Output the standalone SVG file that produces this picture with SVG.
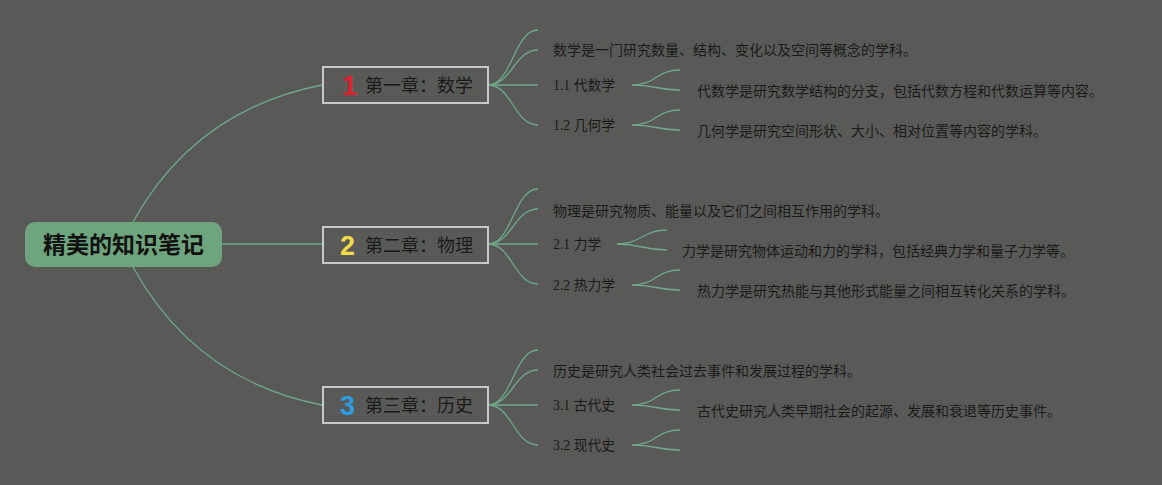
<svg xmlns="http://www.w3.org/2000/svg" width="1162" height="485" viewBox="0 0 1162 485">
<style>
.bg{fill:#595a57}
.ln{fill:none;stroke:#6fa88a;stroke-width:1.3}
.chap{fill:#595a57;stroke:#c9c9c9;stroke-width:2}
.ct{font-family:"Noto Sans CJK SC","Noto Sans",sans-serif;font-size:18px;fill:#1a1a1a}
.num{font-family:"Liberation Sans","Noto Sans",sans-serif;font-size:27px;font-weight:bold}
.lab{font-family:"Liberation Serif","Noto Sans CJK SC",serif;font-size:13.8px;fill:#1a1a1a}
.desc{font-family:"Noto Sans CJK SC","Noto Sans",sans-serif;font-size:14px;fill:#1a1a1a}
.root{fill:#6ea57e}
.rt{font-family:"Noto Sans CJK SC","Noto Sans",sans-serif;font-size:23px;font-weight:bold;fill:#111}
</style>
<rect class="bg" x="0" y="0" width="1162" height="485"/>
<g id="connectors">
<path class="ln" d="M133,222 Q195,110 322,85"/>
<path class="ln" d="M222,244 L322,244"/>
<path class="ln" d="M133,267 Q195,380 322,405"/>
<path class="ln" d="M488,85 C512,85 514,30 538,30"/>
<path class="ln" d="M488,85 C512,85 514,50 538,50"/>
<path class="ln" d="M488,85 L538,85"/>
<path class="ln" d="M488,85 C512,85 514,125 538,125"/>
<path class="ln" d="M632,85 C656,85 656,70 680,70"/>
<path class="ln" d="M632,85 C656,85 656,90 680,90"/>
<path class="ln" d="M632,125 C656,125 656,110 680,110"/>
<path class="ln" d="M632,125 C656,125 656,130 680,130"/>
<path class="ln" d="M488,244 C512,244 514,189 538,189"/>
<path class="ln" d="M488,244 C512,244 514,209 538,209"/>
<path class="ln" d="M488,244 L538,244"/>
<path class="ln" d="M488,244 C512,244 514,284 538,284"/>
<path class="ln" d="M617,244 C641,244 643,230 667,230"/>
<path class="ln" d="M617,244 C641,244 643,250 667,250"/>
<path class="ln" d="M632,285 C656,285 656,270 680,270"/>
<path class="ln" d="M632,285 C656,285 656,290 680,290"/>
<path class="ln" d="M488,405 C512,405 514,350 538,350"/>
<path class="ln" d="M488,405 C512,405 514,370 538,370"/>
<path class="ln" d="M488,405 L538,405"/>
<path class="ln" d="M488,405 C512,405 514,445 538,445"/>
<path class="ln" d="M632,405 C656,405 656,390 680,390"/>
<path class="ln" d="M632,405 C656,405 656,410 680,410"/>
<path class="ln" d="M632,445 C656,445 656,430 680,430"/>
<path class="ln" d="M632,445 C656,445 656,450 680,450"/>
</g>
<g id="root">
<rect class="root" x="25" y="222" width="197" height="45" rx="10"/>
<text class="rt" x="123.5" y="253" text-anchor="middle">精美的知识笔记</text>
</g>
<g id="ch1">
<rect class="chap" x="323" y="67" width="165" height="36"/>
<text class="num" x="342" y="95" fill="#e0202e">1</text>
<text class="ct" x="365" y="92">第一章：数学</text>
</g>
<g id="ch1-desc"><text class="desc" x="553" y="55">数学是一门研究数量、结构、变化以及空间等概念的学科。</text></g>
<g id="s11"><text class="lab" x="553" y="90">1.1 代数学</text></g>
<g id="s11-desc"><text class="desc" x="697" y="96">代数学是研究数学结构的分支，包括代数方程和代数运算等内容。</text></g>
<g id="s12"><text class="lab" x="553" y="130">1.2 几何学</text></g>
<g id="s12-desc"><text class="desc" x="697" y="136">几何学是研究空间形状、大小、相对位置等内容的学科。</text></g>
<g id="ch2">
<rect class="chap" x="323" y="227" width="165" height="36"/>
<text class="num" x="340" y="255" fill="#f2d84a">2</text>
<text class="ct" x="365" y="252">第二章：物理</text>
</g>
<g id="ch2-desc"><text class="desc" x="553" y="216">物理是研究物质、能量以及它们之间相互作用的学科。</text></g>
<g id="s21"><text class="lab" x="553" y="249">2.1 力学</text></g>
<g id="s21-desc"><text class="desc" x="682" y="256">力学是研究物体运动和力的学科，包括经典力学和量子力学等。</text></g>
<g id="s22"><text class="lab" x="553" y="290">2.2 热力学</text></g>
<g id="s22-desc"><text class="desc" x="697" y="296">热力学是研究热能与其他形式能量之间相互转化关系的学科。</text></g>
<g id="ch3">
<rect class="chap" x="323" y="387" width="165" height="36"/>
<text class="num" x="340" y="415" fill="#2b9fe0">3</text>
<text class="ct" x="365" y="412">第三章：历史</text>
</g>
<g id="ch3-desc"><text class="desc" x="553" y="376">历史是研究人类社会过去事件和发展过程的学科。</text></g>
<g id="s31"><text class="lab" x="553" y="410">3.1 古代史</text></g>
<g id="s31-desc"><text class="desc" x="697" y="416">古代史研究人类早期社会的起源、发展和衰退等历史事件。</text></g>
<g id="s32"><text class="lab" x="553" y="450">3.2 现代史</text></g>
</svg>
